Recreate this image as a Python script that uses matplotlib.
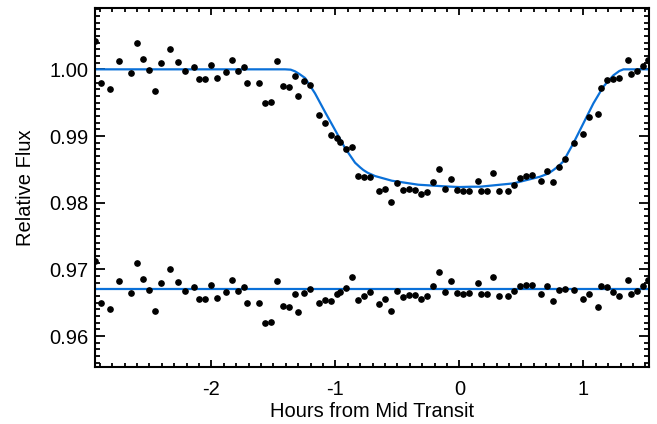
import numpy as np
import matplotlib.pyplot as plt
from matplotlib.ticker import MultipleLocator, FormatStrFormatter

plt.rcParams['font.family'] = ['Liberation Sans', 'DejaVu Sans']
plt.rcParams['axes.unicode_minus'] = False

# observed light curve (hours from mid transit, relative flux)
hours = [-2.938, -2.892, -2.819, -2.747, -2.650, -2.602, -2.553, -2.505, -2.456, -2.408,
         -2.335, -2.266, -2.215, -2.142, -2.097, -2.048, -2.000, -1.952, -1.879, -1.831,
         -1.782, -1.734, -1.710, -1.613, -1.565, -1.516, -1.468, -1.419, -1.373, -1.323,
         -1.298, -1.252, -1.204, -1.131, -1.083, -1.032, -0.986, -0.962, -0.911, -0.863,
         -0.817, -0.769, -0.720, -0.648, -0.599, -0.551, -0.502, -0.454, -0.406, -0.357,
         -0.309, -0.260, -0.212, -0.164, -0.115, -0.067, -0.019, 0.030, 0.078, 0.148,
         0.175, 0.221, 0.269, 0.318, 0.393, 0.439, 0.487, 0.535, 0.584, 0.656,
         0.705, 0.753, 0.802, 0.850, 0.923, 0.995, 1.044, 1.116, 1.140, 1.189,
         1.237, 1.285, 1.358, 1.382, 1.431, 1.479, 1.519]
flux = [1.0043, 0.9979, 0.9971, 1.0013, 0.9994, 1.0039, 1.0015, 0.9999, 0.9967, 1.0010,
        1.0030, 1.0011, 0.9998, 1.0004, 0.9985, 0.9985, 1.0007, 0.9987, 0.9996, 1.0014,
        0.9997, 1.0004, 0.9979, 0.9979, 0.9949, 0.9951, 1.0013, 0.9975, 0.9973, 0.9990,
        0.9960, 0.9982, 0.9976, 0.9932, 0.9920, 0.9901, 0.9897, 0.9891, 0.9881, 0.9884,
        0.9840, 0.9838, 0.9839, 0.9817, 0.9821, 0.9801, 0.9829, 0.9819, 0.9821, 0.9819,
        0.9813, 0.9816, 0.9831, 0.9851, 0.9821, 0.9836, 0.9819, 0.9817, 0.9818, 0.9833,
        0.9817, 0.9818, 0.9845, 0.9817, 0.9818, 0.9827, 0.9837, 0.9840, 0.9842, 0.9833,
        0.9848, 0.9831, 0.9854, 0.9866, 0.9890, 0.9903, 0.9928, 0.9933, 0.9972, 0.9984,
        0.9986, 0.9987, 1.0014, 0.9993, 0.9997, 1.0005, 1.0014]

# fitted transit model
model_t = [-2.95, -1.406, -1.36, -1.325, -1.29, -1.244, -1.164, -1.083, -1.002, -0.922,
           -0.841, -0.80, -0.774, -0.74, -0.68, -0.545, -0.331, -0.115, 0.0, 0.10,
           0.167, 0.436, 0.651, 0.72, 0.758, 0.80, 0.839, 0.919, 1.0, 1.081,
           1.161, 1.242, 1.29, 1.323, 1.36, 1.53]
model_f = [1.0, 1.0, 0.99995, 0.9997, 0.9993, 0.9987, 0.9964, 0.9936, 0.9909, 0.9882,
           0.9860, 0.9853, 0.9849, 0.9845, 0.9840, 0.9833, 0.9827, 0.98245, 0.98235, 0.9824,
           0.9824, 0.9829, 0.9839, 0.9844, 0.9849, 0.9855, 0.9862, 0.9889, 0.9919, 0.9949,
           0.9974, 0.9991, 0.99975, 1.0, 1.0, 1.0]

resid_offset = 0.967

hours = np.array(hours)
flux = np.array(flux)
resid = flux - np.interp(hours, model_t, model_f) + resid_offset

fig = plt.figure(figsize=(6.57, 4.24), dpi=100)
ax = fig.add_axes([0.1446, 0.1337, 0.8428, 0.8467])

blue = '#0a70d8'
ax.plot(model_t, model_f, color=blue, lw=1.6, zorder=2)
ax.plot(hours, flux, 'o', color='black', ms=3.8, zorder=3)
ax.axhline(resid_offset, color=blue, lw=1.6, zorder=2)
ax.plot(hours, resid, 'o', color='black', ms=3.8, zorder=3)

ax.set_xlim(-2.938, 1.527)
ax.set_ylim(0.95532, 1.00915)

ax.xaxis.set_major_locator(MultipleLocator(1))
ax.xaxis.set_minor_locator(MultipleLocator(0.1))
ax.yaxis.set_major_locator(MultipleLocator(0.01))
ax.yaxis.set_minor_locator(MultipleLocator(0.001))
ax.xaxis.set_major_formatter(FormatStrFormatter('%d'))
ax.yaxis.set_major_formatter(FormatStrFormatter('%.2f'))

ax.tick_params(which='both', direction='in', top=True, right=True,
               width=1.3, labelsize=14.5, colors='black')
ax.tick_params(axis='x', which='major', length=5, pad=9)
ax.tick_params(axis='x', which='minor', length=2.6)
ax.tick_params(axis='y', which='major', length=7.2, pad=5)
ax.tick_params(axis='y', which='minor', length=3.6)
for s in ax.spines.values():
    s.set_linewidth(1.5)

ax.set_xlabel('Hours from Mid Transit', fontsize=14.5, labelpad=2)
ax.set_ylabel('Relative Flux', fontsize=14.5, labelpad=10)

fig.savefig('out.png', dpi=100)
